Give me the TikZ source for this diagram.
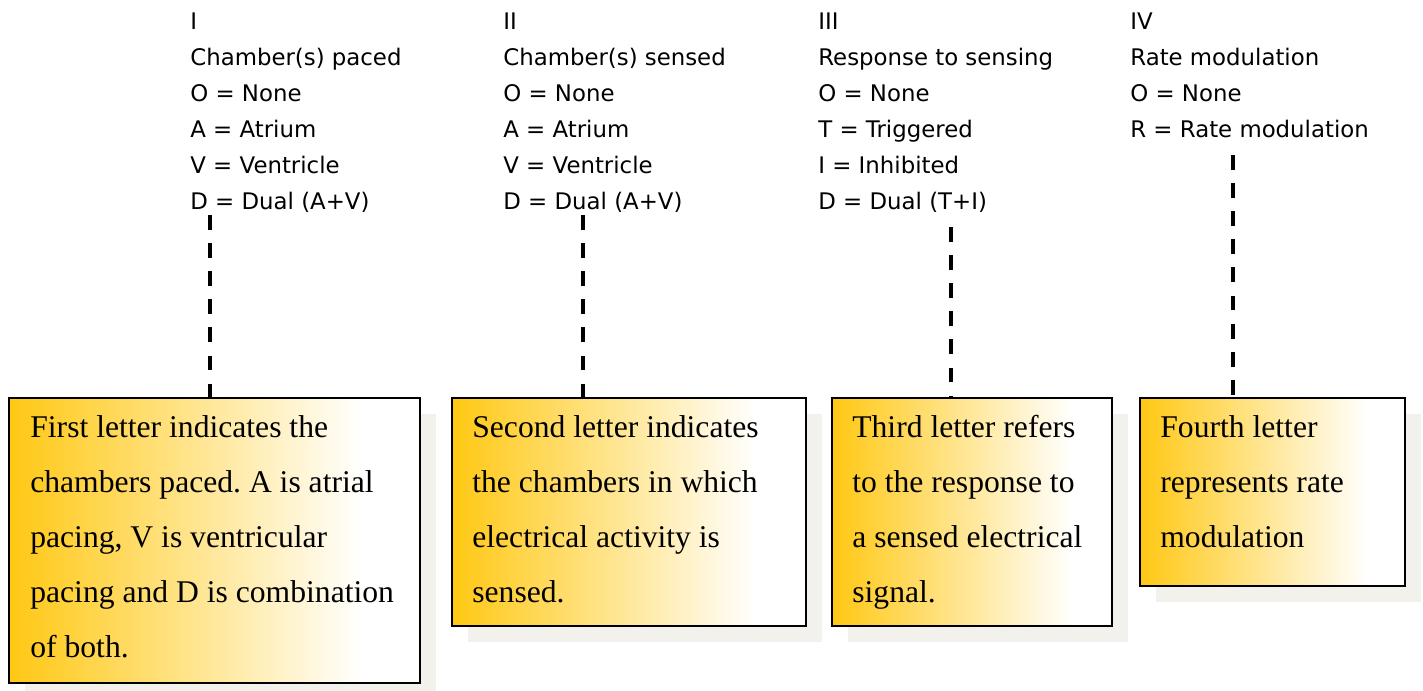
\documentclass[tikz,border=0pt]{standalone}
\usepackage{fontspec}
\setmainfont{Liberation Serif}
\setsansfont{DejaVu Sans}
\usetikzlibrary{shadows}
\frenchspacing
\definecolor{boxyellow}{RGB}{255,200,20}
\definecolor{shadowgrey}{RGB}{242,241,235}
\pgfdeclarehorizontalshading{boxfade}{100bp}{color(0bp)=(boxyellow); color(25bp)=(boxyellow); color(68bp)=(white); color(100bp)=(white)}
\begin{document}
\begin{tikzpicture}[x=0.02cm, y=-0.02cm,
    heading/.style={font=\sffamily\fontsize{13}{20.5}\selectfont, align=left, anchor=north west, inner sep=0pt},
    infobox/.style={draw, line width=1.4pt, shading=boxfade, anchor=north west, inner sep=0pt,
        general shadow={fill=shadowgrey, shadow xshift=0.32cm, shadow yshift=-0.32cm}},
    infotext/.style={font=\fontsize{18}{31.3}\selectfont, align=left, anchor=north west, inner sep=0pt},
    leader/.style={line width=2pt, dash pattern=on 8.5pt off 7.5pt}]
        \useasboundingbox (0,0) rectangle (1423,690);
        % codes for each position
        \node [heading] (pos1) at (190,12) {I\\Chamber(s) paced\\O = None\\A = Atrium\\V = Ventricle\\D = Dual (A+V)};
        \node [heading] (pos2) at (503,12) {II\\Chamber(s) sensed\\O = None\\A = Atrium\\V = Ventricle\\D = Dual (A+V)};
        \node [heading] (pos3) at (818,12) {III\\Response to sensing\\O = None\\T = Triggered\\I = Inhibited\\D = Dual (T+I)};
        \node [heading] (pos4) at (1130,12) {IV\\Rate modulation\\O = None\\R = Rate modulation};
        % explanation boxes
        \node [infobox, minimum width=8.22cm, minimum height=5.7cm] (box1) at (8,397) {};
        \node [infobox, minimum width=7.08cm, minimum height=4.56cm] (box2) at (451,397) {};
        \node [infobox, minimum width=5.6cm, minimum height=4.56cm] (box3) at (831,397) {};
        \node [infobox, minimum width=5.3cm, minimum height=3.76cm] (box4) at (1139,397) {};
        \node [infotext] (text1) at (30,415) {First letter indicates the\\chambers paced. A is atrial\\pacing, V is ventricular\\pacing and D is combination\\of both.};
        \node [infotext] (text2) at (472,415) {Second letter indicates\\the chambers in which\\electrical activity is\\sensed.};
        \node [infotext] (text3) at (852,415) {Third letter refers\\to the response to\\a sensed electrical\\signal.};
        \node [infotext] (text4) at (1160,415) {Fourth letter\\represents rate\\modulation};
        % dashed leaders
        \coordinate (tap1) at (210,215);
        \coordinate (tap2) at (583,215);
        \coordinate (tap3) at (951,227);
        \coordinate (tap4) at (1233,155);
        \draw [leader] (tap1) -- (tap1 |- box1.north);
        \draw [leader] (tap2) -- (tap2 |- box2.north);
        \draw [leader] (tap3) -- (tap3 |- box3.north);
        \draw [leader] (tap4) -- (tap4 |- box4.north);
    \end{tikzpicture}
\end{document}
